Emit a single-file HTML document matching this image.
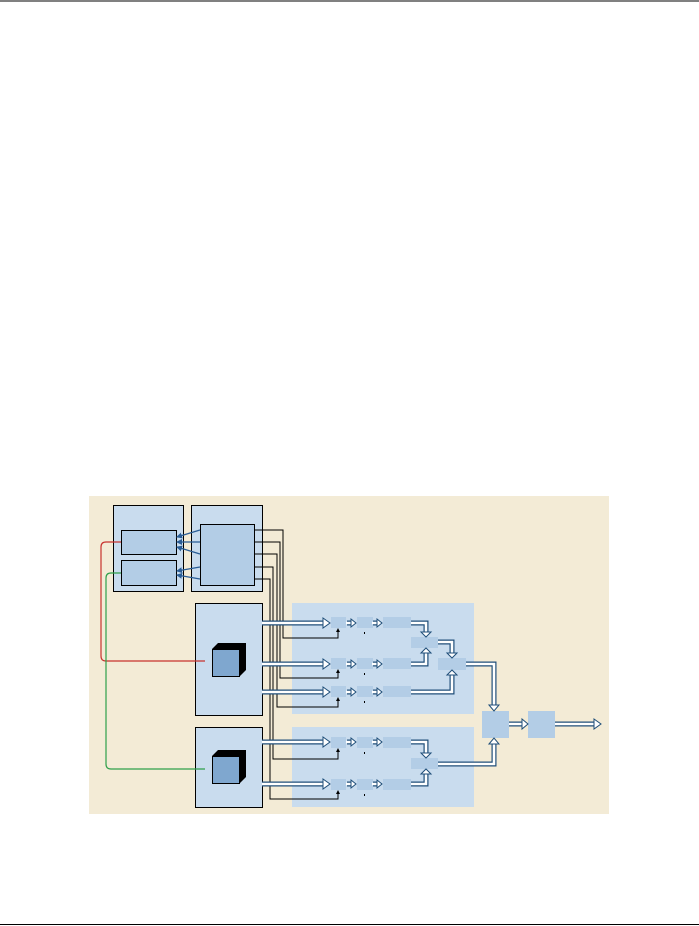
<!DOCTYPE html>
<html><head><style>body{margin:0;background:#fff}svg{display:block}</style></head><body>
<svg width="699" height="926" viewBox="0 0 699 926" xmlns="http://www.w3.org/2000/svg">
<defs>
<marker id="ba" markerWidth="6" markerHeight="6" refX="5" refY="3" orient="auto" markerUnits="userSpaceOnUse"><path d="M0,0L6,3L0,6z" fill="#2a5d95"/></marker>
<marker id="bk" markerWidth="4" markerHeight="4" refX="2" refY="2" orient="auto" markerUnits="userSpaceOnUse"><path d="M0,0L4,2L0,4z" fill="#000"/></marker>
</defs>
<line x1="0" y1="1" x2="699" y2="1" stroke="#000" stroke-width="1"/>
<line x1="0" y1="924.5" x2="699" y2="924.5" stroke="#000" stroke-width="1"/>
<rect x="89" y="496" width="520" height="318" fill="#f3ebd6"/>
<rect x="292" y="603" width="182" height="111" fill="#c9dcee"/>
<rect x="292" y="727" width="182" height="80" fill="#c9dcee"/>
<g stroke="#000" stroke-width="1">
<rect x="113.5" y="505.5" width="70" height="86" fill="#c9dcee"/>
<rect x="121.5" y="530.5" width="55" height="24" fill="#b3cde6"/>
<rect x="121.5" y="560.5" width="55" height="25" fill="#b3cde6"/>
<rect x="191.5" y="505.5" width="71" height="86" fill="#c9dcee"/>
<rect x="200.5" y="524.5" width="54" height="61" fill="#b3cde6"/>
<rect x="195.5" y="603.5" width="67" height="112" fill="#c9dcee"/>
<rect x="195.5" y="727.5" width="67" height="80" fill="#c9dcee"/>
</g>
<!-- cubes -->
<g>
<polygon points="212,649 218,643 246,643 246,670 240,676 240,649" fill="#000"/>
<rect x="212.5" y="649.5" width="27" height="27" fill="#7fa7cf" stroke="#000"/>
<polygon points="212,756 218,750 246,750 246,777 240,783 240,756" fill="#000"/>
<rect x="212.5" y="756.5" width="27" height="27" fill="#7fa7cf" stroke="#000"/>
</g>
<!-- blue small arrows -->
<g stroke="#2a5d95" stroke-width="1.3" marker-end="url(#ba)">
<line x1="200" y1="530" x2="177" y2="537"/>
<line x1="200" y1="542" x2="177" y2="542"/>
<line x1="200" y1="554" x2="177" y2="547"/>
<line x1="200" y1="567" x2="177" y2="571"/>
<line x1="200" y1="579" x2="177" y2="575"/>
</g>
<!-- red/green -->
<path d="M121,542 H106 Q101,542 101,547 V656 Q101,661 106,661 H205" fill="none" stroke="#c8322e" stroke-width="1.2"/>
<path d="M121,573 H111 Q106,573 106,578 V764 Q106,769 111,769 H205" fill="none" stroke="#2ea04a" stroke-width="1.2"/>
<!-- stage boxes -->
<g fill="#b3cde6">
<rect x="331" y="617" width="15" height="11"/><rect x="357" y="617" width="16" height="11"/><rect x="383" y="617" width="28" height="11"/>
<rect x="331" y="658" width="15" height="11"/><rect x="357" y="658" width="16" height="11"/><rect x="383" y="658" width="28" height="11"/>
<rect x="331" y="686" width="15" height="11"/><rect x="357" y="686" width="16" height="11"/><rect x="383" y="686" width="28" height="11"/>
<rect x="331" y="737" width="15" height="11"/><rect x="357" y="737" width="16" height="11"/><rect x="383" y="737" width="28" height="11"/>
<rect x="331" y="779" width="15" height="11"/><rect x="357" y="779" width="16" height="11"/><rect x="383" y="779" width="28" height="11"/>
<rect x="411" y="637" width="27" height="11"/><rect x="438" y="658" width="28" height="12"/><rect x="411" y="758" width="27" height="11"/>
<rect x="482" y="711" width="27" height="27"/><rect x="528" y="711" width="27" height="27"/>
</g>
<!-- black wires -->
<g fill="none" stroke="#000" stroke-width="1">
<path d="M254,530 H283 V638 H338 V630" marker-end="url(#bk)"/>
<path d="M254,542 H280 V678 H338 V671" marker-end="url(#bk)"/>
<path d="M254,554 H277 V707 H338 V699" marker-end="url(#bk)"/>
<path d="M254,567 H273 V759 H338 V750" marker-end="url(#bk)"/>
<path d="M254,579 H270 V799 H338 V792" marker-end="url(#bk)"/>
</g>
<g fill="#000"><rect x="364" y="632" width="1" height="2"/><rect x="364" y="673" width="1" height="2"/><rect x="364" y="701" width="1" height="2"/><rect x="364" y="752" width="1" height="2"/><rect x="364" y="794" width="1" height="2"/></g>
<!-- hollow arrows -->
<g fill="none" stroke-linejoin="miter">
<g stroke="#1f4e79" stroke-width="5">
<path d="M262,623H323M262,664H323M262,692H323M262,742H323M262,784H323"/>
<path d="M411,623H426V632M411,664H426V653M438,642H452V653M411,692H452V675M466,664H494V705M411,742H426V753M411,784H426V774M438,764H494V744M509,724H522M555,724H594"/>
<path d="M347,623H351M373,623H377M347,664H351M373,664H377M347,692H351M373,692H377M347,742H351M373,742H377M347,784H351M373,784H377"/>
</g>
<g stroke="#fff" stroke-width="2.6">
<path d="M262,623H324M262,664H324M262,692H324M262,742H324M262,784H324"/>
<path d="M411,623H426V633M411,664H426V652M438,642H452V654M411,692H452V674M466,664H494V706M411,742H426V754M411,784H426V773M438,764H494V743M509,724H523M555,724H595"/>
<path d="M346,623H352M372,623H378M346,664H352M372,664H378M346,692H352M372,692H378M346,742H352M372,742H378M346,784H352M372,784H378"/>
</g>
</g>
<g fill="#fff" stroke="#1f4e79" stroke-width="1">
<!-- right heads -->
<path d="M323,618L330,623L323,628z"/><path d="M323,659L330,664L323,669z"/><path d="M323,687L330,692L323,697z"/><path d="M323,737L330,742L323,747z"/><path d="M323,779L330,784L323,789z"/>
<path d="M351,619L356,623L351,627z"/><path d="M377,619L382,623L377,627z"/>
<path d="M351,660L356,664L351,668z"/><path d="M377,660L382,664L377,668z"/>
<path d="M351,688L356,692L351,696z"/><path d="M377,688L382,692L377,696z"/>
<path d="M351,738L356,742L351,746z"/><path d="M377,738L382,742L377,746z"/>
<path d="M351,780L356,784L351,788z"/><path d="M377,780L382,784L377,788z"/>
<path d="M522,719L528,724L522,729z"/><path d="M594,719L601,724L594,729z"/>
<!-- down heads -->
<path d="M421,632L426,637L431,632z"/><path d="M447,653L452,658L457,653z"/><path d="M489,705L494,711L499,705z"/><path d="M421,753L426,758L431,753z"/>
<!-- up heads -->
<path d="M421,653L426,648L431,653z"/><path d="M447,675L452,670L457,675z"/><path d="M421,774L426,769L431,774z"/><path d="M489,744L494,738L499,744z"/>
</g>
</svg>
</body></html>
